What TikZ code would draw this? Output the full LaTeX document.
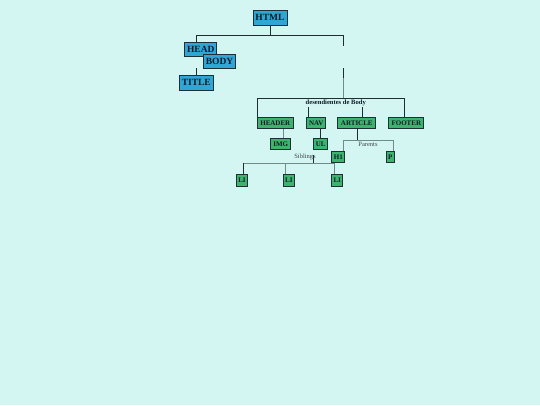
\documentclass[tikz,border=0pt]{standalone}
\usepackage{fontspec}
\setmainfont{Liberation Serif}
\definecolor{bgc}{HTML}{D4F6F2}
\definecolor{bluec}{HTML}{2FA6D6}
\definecolor{greenc}{HTML}{3DB46E}
\definecolor{edgec}{HTML}{1C3036}
\definecolor{txt}{HTML}{0E1A2A}
\definecolor{linec}{HTML}{1E2E2E}
\definecolor{grayc}{HTML}{6F8C8A}
\definecolor{labc}{HTML}{3A4648}
\begin{document}
\begin{tikzpicture}[x=1pt,y=-1pt,
  bluebox/.style={draw=edgec, fill=bluec, line width=1pt, inner sep=0pt, text=txt,
    font=\fontsize{9.5}{9.5}\selectfont\bfseries, minimum height=14.5pt},
  greenbox/.style={draw=edgec, fill=greenc, line width=1pt, inner sep=0pt, text=txt,
    font=\fontsize{7}{7}\selectfont\bfseries, minimum height=11.5pt},
  dk/.style={draw=linec, line width=0.9pt},
  gr/.style={draw=grayc, line width=1pt},
  lab/.style={inner sep=0pt, text=labc, font=\fontsize{6.5}{6.5}\selectfont}]
\fill[bgc] (0,0) rectangle (540,405);
\useasboundingbox (0,0) rectangle (540,405);

% junction coordinates
\coordinate (a1) at (196.7,35);
\coordinate (a2) at (343.3,35);
\coordinate (a3) at (343.3,45.7);
\coordinate (b1) at (343.3,68.3);
\coordinate (b2) at (343.3,78.3);
\coordinate (b3) at (343.3,98.3);
\coordinate (c1) at (257.3,98.3);
\coordinate (c2) at (404.3,98.3);
\coordinate (n1) at (308.7,107.3);
\coordinate (r1) at (362.7,107.3);
\coordinate (t1) at (196.7,68.3);
\coordinate (i1) at (283.3,129);
\coordinate (u1) at (320.7,129);
\coordinate (p0) at (357,129);
\coordinate (p1) at (357,140);
\coordinate (p2) at (343.3,140);
\coordinate (p3) at (393.3,140);
\coordinate (s1) at (313.3,155);
\coordinate (s2) at (313.3,163.3);
\coordinate (s3) at (243.3,163.3);
\coordinate (s4) at (334.3,163.3);
\coordinate (s5) at (285.7,163.3);

% nodes
\node[bluebox, minimum width=34pt, minimum height=15pt] (html) at (270,17.5) {HTML};
\node[bluebox, minimum width=31.7pt] (head) at (200.8,49.7) {HEAD};
\node[bluebox, minimum width=32.4pt] (body) at (219.5,61.3) {BODY};
\node[bluebox, minimum width=34pt, minimum height=15pt] (title) at (196.3,82.5) {TITLE};

\node[greenbox, minimum width=36pt] (header) at (275.3,123.2) {HEADER};
\node[greenbox, minimum width=19pt] (nav) at (316.2,123.2) {NAV};
\node[greenbox, minimum width=38.3pt] (article) at (356.8,123.2) {ARTICLE};
\node[greenbox, minimum width=35.3pt] (footer) at (406.3,123.2) {FOOTER};
\node[greenbox, minimum width=20.3pt, minimum height=11pt] (img) at (280.8,143.8) {IMG};
\node[greenbox, minimum width=13.7pt, minimum height=11pt] (ul) at (320.8,143.8) {UL};
\node[greenbox, minimum width=13.3pt] (h1) at (338.3,156.8) {H1};
\node[greenbox, minimum width=8.3pt] (p) at (390.2,156.8) {P};
\node[greenbox, minimum width=10.6pt, minimum height=12.4pt] (li1) at (242,180.5) {LI};
\node[greenbox, minimum width=11pt, minimum height=12.4pt] (li2) at (288.8,180.5) {LI};
\node[greenbox, minimum width=11pt, minimum height=12.4pt] (li3) at (337.2,180.5) {LI};

\node[inner sep=0pt, text=txt, font=\fontsize{6.6}{6.6}\selectfont\bfseries] (desc) at (335.8,102.7) {desendientes de Body};
\node[lab] (parents) at (368,144.3) {Parents};
\node[lab] (siblings) at (305,157.3) {Siblings};

% connectors
\draw[dk] (html.south) -- (html.south |- a1);
\draw[dk] (a1) -- (a2);
\draw[dk] (a1) -- (a1 |- head.north);
\draw[dk] (a2) -- (a3);
\draw[dk] (b1) -- (b2);
\draw[gr] (b2) -- (b3);
\draw[dk] (c1) -- (c2);
\draw[dk] (c1) -- (c1 |- header.north);
\draw[dk] (c2) -- (c2 |- footer.north);
\draw[dk] (n1) -- (n1 |- nav.north);
\draw[dk] (r1) -- (r1 |- article.north);
\draw[dk] (t1) -- (t1 |- title.north);
\draw[gr] (i1) -- (i1 |- img.north);
\draw[dk] (u1) -- (u1 |- ul.north);
\draw[dk] (p0) -- (p1);
\draw[gr] (p2) -- (p3);
\draw[gr] (p2) -- (p2 |- h1.north);
\draw[gr] (p3) -- (p3 |- p.north);
\draw[dk] (s1) -- (s2);
\draw[gr] (s3) -- (s4);
\draw[dk] (s3) -- (s3 |- li1.north);
\draw[gr] (s5) -- (s5 |- li2.north);
\draw[gr] (s4) -- (s4 |- li3.north);
\end{tikzpicture}
\end{document}
